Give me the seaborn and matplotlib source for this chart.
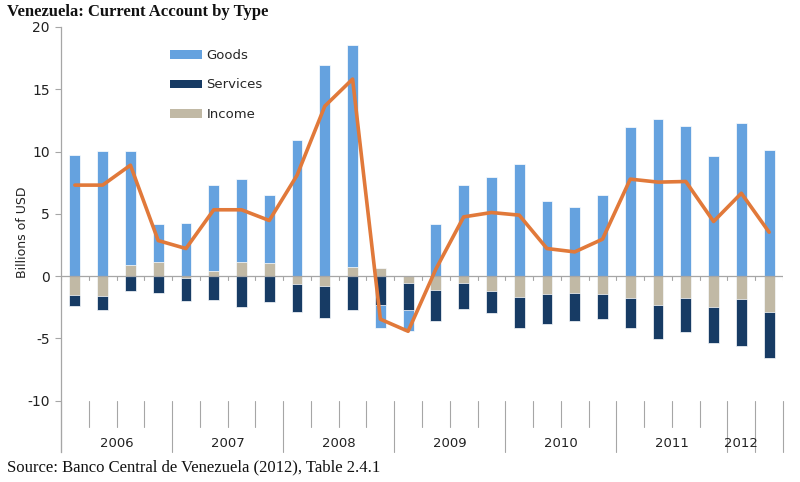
import numpy as np
import pandas as pd
import matplotlib
matplotlib.use("Agg")
import matplotlib.pyplot as plt
import seaborn as sns
from matplotlib.patches import Patch

# ---------------- data (billions of USD, quarterly) ----------------
quarters = [f"{y}Q{q}" for y in range(2006, 2013) for q in range(1, 5)][:26]

goods = [9.69, 10.04, 9.13, 3.03, 4.26, 6.88, 6.64, 5.43, 10.97, 16.94, 17.82, -1.87, -1.69,
         4.18, 7.33, 8.00, 8.97, 6.05, 5.57, 6.48, 11.94, 12.60, 12.07, 9.66, 12.26, 10.12]
services = [-0.86, -1.15, -1.15, -1.31, -1.90, -1.95, -2.49, -2.06, -2.26, -2.60, -2.73, -2.28, -2.17,
            -2.49, -2.09, -1.79, -2.46, -2.41, -2.30, -2.01, -2.41, -2.73, -2.67, -2.89, -3.75, -3.75]
income = [-1.53, -1.60, 0.88, 1.15, -0.12, 0.40, 1.15, 1.07, -0.60, -0.75, 0.70, 0.62, -0.56,
          -1.12, -0.51, -1.15, -1.69, -1.39, -1.31, -1.39, -1.77, -2.30, -1.77, -2.44, -1.85, -2.84]
current_account = [7.31, 7.31, 8.91, 2.86, 2.22, 5.33, 5.33, 4.47, 8.10, 13.65, 15.82, -3.45, -4.42,
                   0.57, 4.76, 5.11, 4.90, 2.22, 1.95, 2.97, 7.79, 7.55, 7.60, 4.39, 6.66, 3.53]

years = ["2006", "2007", "2008", "2009", "2010", "2011", "2012"]
# category-boundary spans used for the year labels (as laid out in the original)
year_spans = [(0, 4), (4, 8), (8, 12), (12, 16), (16, 20), (20, 24), (24, 25)]
long_bounds = [0, 4, 8, 12, 16, 20, 24, 25, 26]

legend_labels = ["Goods", "Services", "Income"]

# ---------------- colours ----------------
C_GOODS = "#65A2DF"
C_SERV = "#173B64"
C_INC = "#C1B9A5"
C_LINE = "#E1793A"
C_AXIS = "#A6A6A6"

sns.set_theme(style="white")
plt.rcParams["font.family"] = ["DejaVu Sans"]

df = pd.DataFrame({"quarter": quarters, "goods": goods, "services": services, "income": income})
pos_inc = df["income"].clip(lower=0)
pos_goods = df["goods"].clip(lower=0)
neg_inc = df["income"].clip(upper=0)
neg_serv = df["services"].clip(upper=0)
neg_goods = df["goods"].clip(upper=0)
df["l_pos_goods"] = pos_inc + pos_goods
df["l_pos_inc"] = pos_inc
df["l_neg_goods"] = neg_inc + neg_serv + neg_goods
df["l_neg_serv"] = neg_inc + neg_serv
df["l_neg_inc"] = neg_inc

fig = plt.figure(figsize=(8, 4.82), dpi=100)
ax = fig.add_axes([61 / 800, 1 - 452 / 482, (783 - 61) / 800, (452 - 27) / 482])

bw = 0.39
for col, c in [("l_pos_goods", C_GOODS), ("l_pos_inc", C_INC),
               ("l_neg_goods", C_GOODS), ("l_neg_serv", C_SERV), ("l_neg_inc", C_INC)]:
    sns.barplot(data=df, x="quarter", y=col, color=c, saturation=1, width=bw,
                edgecolor="white", linewidth=0.5, ax=ax, zorder=2)

# zero axis line with small ticks
ax.axhline(0, color=C_AXIS, lw=0.9, zorder=3)
n = len(quarters)
for b in range(n + 1):
    ax.plot([b - 0.5, b - 0.5], [0, -0.32], color=C_AXIS, lw=0.8, zorder=3)

# current account line
sns.lineplot(x=np.arange(n), y=current_account, color=C_LINE, lw=2.6, ax=ax, zorder=4)

# category axis at bottom
for b in range(n + 1):
    y1 = -14.11 if b in long_bounds else -12.13
    ax.plot([b - 0.5, b - 0.5], [-10, y1], color=C_AXIS, lw=0.8, clip_on=False, zorder=1)
for yr, (a, b) in zip(years, year_spans):
    ax.text(-0.5 + (a + b) / 2, -13.42, yr, ha="center", va="center", fontsize=9.5, color="#222222")

ax.set_xlim(-0.5, n - 0.5)
ax.set_ylim(-14.11, 20)
ax.set_yticks([-10, -5, 0, 5, 10, 15, 20])
ax.set_yticklabels(["-10", "-5", "0", "5", "10", "15", "20"])
ax.set_xticks([])
ax.set_xlabel("")
ax.tick_params(axis="y", left=True, direction="out", length=4, width=0.8, color=C_AXIS,
               labelsize=10, labelcolor="#222222", pad=4)
for s in ["top", "right", "bottom"]:
    ax.spines[s].set_visible(False)
ax.spines["left"].set_color(C_AXIS)
ax.spines["left"].set_linewidth(0.9)

ax.set_ylabel("Billions of USD", fontsize=9, color="#222222")
ax.yaxis.set_label_coords(-0.044, 0.518)

handles = [Patch(facecolor=C_GOODS, edgecolor="none"),
           Patch(facecolor=C_SERV, edgecolor="none"),
           Patch(facecolor=C_INC, edgecolor="none")]
ax.legend(handles, legend_labels, loc="upper left", bbox_to_anchor=(170 / 800, 1 - 49 / 482),
          bbox_transform=fig.transFigure, frameon=False, fontsize=9.5, handlelength=2.4,
          handleheight=0.6, labelspacing=1.25, handletextpad=0.35, borderpad=0,
          borderaxespad=0)

fig.text(7 / 800, 1 - 12 / 482, "Venezuela: Current Account by Type", family="Liberation Serif",
         weight="bold", fontsize=12, va="center", ha="left", color="#111111")
fig.text(7 / 800, 1 - 467 / 482, "Source: Banco Central de Venezuela (2012), Table 2.4.1",
         family="Liberation Serif", fontsize=12, va="center", ha="left", color="#111111")

fig.savefig("out.png", dpi=100)
